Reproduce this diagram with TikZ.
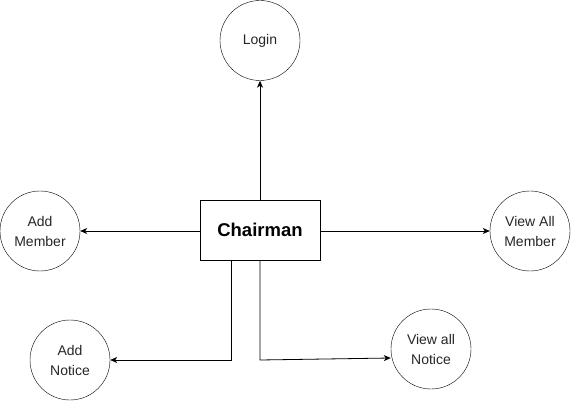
\documentclass[tikz,border=0pt]{standalone}
\usepackage{fontspec}
\setmainfont{Liberation Sans}
\usetikzlibrary{arrows.meta}
\begin{document}
\begin{tikzpicture}[x=1pt,y=-1pt,
  usecase/.style={draw,circle,minimum size=80pt,inner sep=0pt,align=center,font=\fontsize{14}{20}\selectfont,text=black!85},
  actor/.style={draw,minimum width=120pt,minimum height=60pt,inner sep=0pt,font=\fontsize{18.5}{22}\selectfont\bfseries},
  conn/.style={line width=0.8pt,-{Stealth[length=7pt,width=6pt,inset=2pt]}}]
\useasboundingbox (0,0) rectangle (571,401);
\node[actor] (ch) at (260,230) {Chairman};
\node[usecase] (login) at (260,40.5) {Login};
\node[usecase] (am) at (40,231) {Add\\Member};
\node[usecase] (vam) at (530,231) {View All\\Member};
\node[usecase] (an) at (70,360) {Add\\Notice};
\node[usecase] (van) at (431,349) {View all\\Notice};
\coordinate (b1) at (231,360);
\coordinate (b2) at (260,360);
\draw[conn] (ch.north) -- (login);
\draw[conn] (ch.west |- am) -- (am);
\draw[conn] (ch.east |- vam) -- (vam);
\draw[conn] (ch.south -| b1) -- (b1) -- (an);
\draw[conn] (ch.south -| b2) -- (b2) -- (van.west |- 0,358);
\end{tikzpicture}
\end{document}
